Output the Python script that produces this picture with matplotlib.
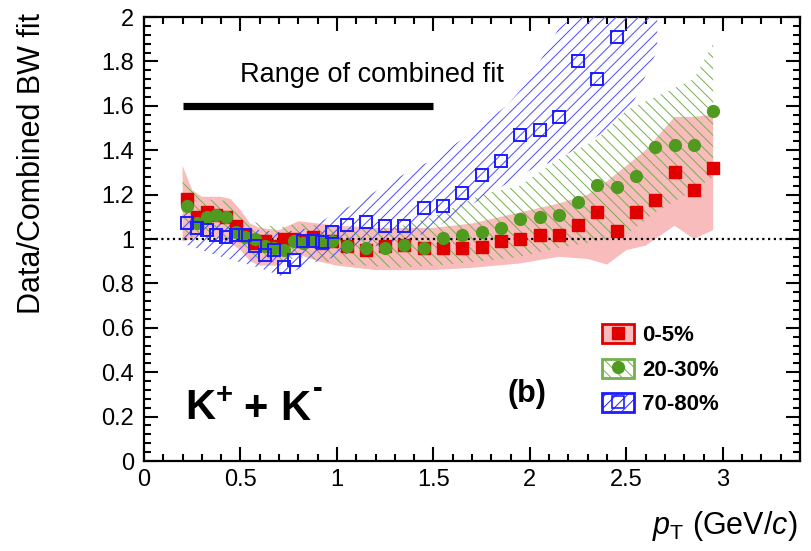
import matplotlib
matplotlib.use("Agg")
import matplotlib.pyplot as plt
from matplotlib.patches import Patch
from matplotlib.lines import Line2D
from matplotlib.legend_handler import HandlerTuple
from matplotlib.ticker import MultipleLocator

plt.rcParams["font.family"] = ["Liberation Sans", "DejaVu Sans"]
plt.rcParams["mathtext.fontset"] = "custom"
plt.rcParams["mathtext.rm"] = "Liberation Sans"
plt.rcParams["mathtext.it"] = "Liberation Sans:italic"
plt.rcParams["mathtext.bf"] = "Liberation Sans:bold"
plt.rcParams["hatch.linewidth"] = 0.7

# pT bin centres (GeV/c)
pt = [0.225, 0.275, 0.325, 0.375, 0.425, 0.475, 0.525, 0.575, 0.625, 0.675,
      0.725, 0.775, 0.825, 0.875, 0.925, 0.975,
      1.05, 1.15, 1.25, 1.35, 1.45, 1.55, 1.65, 1.75, 1.85, 1.95,
      2.05, 2.15, 2.25, 2.35, 2.45, 2.55, 2.65, 2.75, 2.85, 2.95]

# Data / combined Blast-Wave fit, per centrality class
ratio_0_5 = [1.18, 1.10, 1.12, 1.11, 1.10, 1.06, 1.02, 0.98, 0.99, 0.97,
             1.00, 1.00, 0.99, 1.01, 0.98, 0.99,
             0.97, 0.95, 0.97, 0.975, 0.96, 0.96, 0.96, 0.965, 0.99, 1.00,
             1.02, 1.02, 1.065, 1.12, 1.035, 1.12, 1.175, 1.30, 1.22, 1.32]
ratio_20_30 = [1.15, 1.07, 1.10, 1.11, 1.10, 1.03, 1.01, 1.00, 0.97, 0.96,
               0.95, 0.99, 0.98, 0.99, 0.99, 0.99,
               0.97, 0.96, 0.96, 0.975, 0.96, 1.005, 1.02, 1.03, 1.05, 1.09,
               1.10, 1.11, 1.165, 1.245, 1.235, 1.285, 1.415, 1.425, 1.425, 1.575]
pt_70_80 = pt[:31]
ratio_70_80 = [1.07, 1.05, 1.04, 1.02, 1.01, 1.02, 1.02, 0.97, 0.93, 0.95,
               0.875, 0.905, 0.99, 0.99, 0.985, 1.03,
               1.065, 1.075, 1.06, 1.06, 1.14, 1.15, 1.205, 1.29, 1.35, 1.47,
               1.49, 1.55, 1.80, 1.72, 1.91]

# Systematic uncertainty bands (lower / upper edges)
band_0_5_pt = [0.2, 0.25, 0.3, 0.4, 0.45, 0.5, 0.55, 0.6, 0.7, 0.75, 0.8, 0.9,
               1.0, 1.2, 1.5, 1.7, 1.95, 2.15, 2.3, 2.4, 2.5, 2.6, 2.75, 2.85, 2.95]
band_0_5_lo = [0.99, 1.00, 1.02, 1.00, 0.98, 0.95, 0.90, 0.88, 0.88, 0.92, 0.93, 0.90,
               0.88, 0.86, 0.86, 0.87, 0.89, 0.92, 0.91, 0.885, 0.95, 0.97, 1.06, 1.00, 1.04]
band_0_5_hi = [1.33, 1.22, 1.19, 1.19, 1.18, 1.13, 1.07, 1.05, 1.04, 1.06, 1.08, 1.07,
               1.06, 1.05, 1.05, 1.07, 1.12, 1.16, 1.20, 1.26, 1.33, 1.40, 1.55, 1.55, 1.56]

band_20_30_pt = [0.2, 0.3, 0.45, 0.55, 0.7, 0.8, 1.0, 1.3, 1.5, 1.75, 1.95,
                 2.15, 2.35, 2.5, 2.65, 2.75, 2.85, 2.95]
band_20_30_lo = [1.00, 1.02, 1.00, 0.92, 0.89, 0.92, 0.89, 0.87, 0.88, 0.90, 0.92,
                 0.96, 0.99, 1.02, 1.12, 1.17, 1.22, 1.28]
band_20_30_hi = [1.28, 1.18, 1.17, 1.08, 1.05, 1.07, 1.05, 1.05, 1.10, 1.20, 1.24,
                 1.36, 1.45, 1.58, 1.64, 1.68, 1.72, 1.88]

band_70_80_pt = [0.2, 0.4, 0.6, 0.72, 0.86, 1.0, 1.12, 1.3, 1.48, 1.65, 1.88,
                 2.0, 2.15, 2.38, 2.52, 2.66]
band_70_80_lo = [0.98, 0.92, 0.87, 0.83, 0.89, 0.92, 0.95, 0.99, 1.03, 1.13, 1.25,
                 1.31, 1.36, 1.48, 1.585, 1.85]
band_70_80_hi = [1.14, 1.07, 1.04, 1.03, 1.05, 1.12, 1.17, 1.27, 1.35, 1.45, 1.60,
                 1.72, 1.95, 2.10, 2.10, 2.10]

fit_range = [0.2, 1.5]
fit_level = 1.6

RED = "#e00000"
GREEN = "#4f9a1f"
BLUE = "#1c1cff"
PINK = "#f8bcbc"
GREEN_HATCH = "#74b04c"
BLUE_HATCH = "#4a4aff"

fig = plt.figure(figsize=(8.11, 5.51), dpi=100)
ax = fig.add_axes([144 / 811, 90 / 551, 656 / 811, 444 / 551])

# bands
ax.fill_between(band_0_5_pt, band_0_5_lo, band_0_5_hi,
                facecolor=PINK, edgecolor="none", lw=0, zorder=1)
ax.fill_between(band_20_30_pt, band_20_30_lo, band_20_30_hi,
                facecolor="none", edgecolor=GREEN_HATCH, hatch="\\\\\\", lw=0, zorder=2)
ax.fill_between(band_70_80_pt, band_70_80_lo, band_70_80_hi,
                facecolor="none", edgecolor=BLUE_HATCH, hatch="///", lw=0, zorder=3)

# reference line at unity
ax.axhline(1.0, color="black", ls=(0, (1, 1.6)), lw=1.6, zorder=4)

# points
ax.plot(pt, ratio_0_5, ls="none", marker="s", ms=8.3, color=RED, mec=RED, zorder=5)
ax.plot(pt, ratio_20_30, ls="none", marker="o", ms=8.5, color=GREEN, mec=GREEN, zorder=6)
ax.plot(pt_70_80, ratio_70_80, ls="none", marker="s", ms=8.8, mfc="none",
        mec=BLUE, mew=1.4, zorder=7)

# fit range indicator
ax.plot(fit_range, [fit_level, fit_level], color="black", lw=5.2,
        solid_capstyle="butt", zorder=8)
ax.text(0.50, 1.705, "Range of combined fit", fontsize=19.5, ha="left", va="baseline")

# particle label
ax.text(0.21, 0.185, r"$\mathbf{K^{+}}$", fontsize=30, ha="left", va="baseline")
ax.text(0.515, 0.185, "+", fontsize=30, fontweight="bold", ha="left", va="baseline")
ax.text(0.705, 0.185, "K", fontsize=30, fontweight="bold", ha="left", va="baseline")
ax.text(0.875, 0.29, "-", fontsize=21, fontweight="bold", ha="left", va="baseline")
ax.text(1.885, 0.266, "(b)", fontsize=22, fontweight="bold", ha="left", va="baseline")

ax.set_xlim(0, 3.4)
ax.set_ylim(0, 2)
ax.xaxis.set_minor_locator(MultipleLocator(0.1))
ax.yaxis.set_minor_locator(MultipleLocator(0.04))
ax.set_xticks([0, 0.5, 1, 1.5, 2, 2.5, 3])
ax.set_xticklabels(["0", "0.5", "1", "1.5", "2", "2.5", "3"])
ax.set_yticks([0, 0.2, 0.4, 0.6, 0.8, 1, 1.2, 1.4, 1.6, 1.8, 2])
ax.set_yticklabels(["0", "0.2", "0.4", "0.6", "0.8", "1", "1.2", "1.4", "1.6", "1.8", "2"])
ax.tick_params(which="both", direction="in", top=True, right=True, width=1.5,
               labelsize=17)
ax.tick_params(which="major", length=10)
ax.tick_params(which="minor", length=5)
ax.tick_params(axis="x", pad=6)
ax.tick_params(axis="y", pad=7)
for s in ax.spines.values():
    s.set_linewidth(1.6)

fig.text(32 / 811, 1 - 13 / 551, "Data/Combined BW fit", rotation=90,
         fontsize=22, ha="center", va="top")
fig.text(797 / 811, 1 - 534 / 551, r"$p_{\mathrm{T}}$ (GeV/$c$)", fontsize=22,
         ha="right", va="baseline")

handles = [
    (Patch(facecolor=PINK, edgecolor=RED, lw=2),
     Line2D([], [], ls="none", marker="s", ms=8, color=RED)),
    (Patch(facecolor="white", edgecolor=GREEN_HATCH, hatch="\\\\\\", lw=2),
     Line2D([], [], ls="none", marker="o", ms=8.5, color=GREEN)),
    (Patch(facecolor="white", edgecolor=BLUE, hatch="///", lw=2),
     Line2D([], [], ls="none", marker="s", ms=8, mfc="none", mec=BLUE, mew=1.2)),
]
labels = ["0-5%", "20-30%", "70-80%"]
ax.legend(handles, labels, handler_map={tuple: HandlerTuple(ndivide=1)},
          loc="upper left", bbox_to_anchor=(591 / 811, 1 - 313 / 551),
          bbox_transform=fig.transFigure, frameon=False, borderpad=0,
          handlelength=1.45, handleheight=0.95, handletextpad=0.35,
          labelspacing=0.55, prop={"weight": "bold", "size": 16})

fig.savefig("out.png", dpi=100)
